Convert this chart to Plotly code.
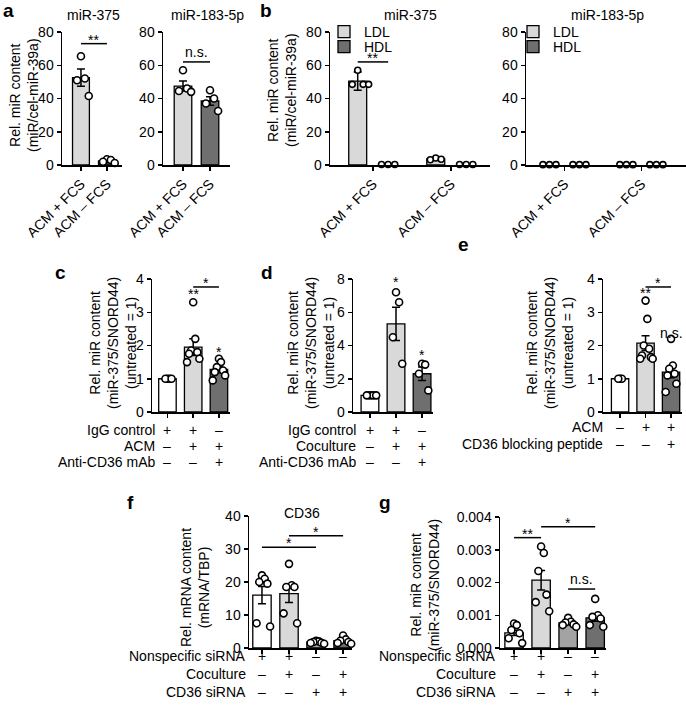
import plotly.graph_objects as go

W, H = 686, 705
def px(x): return x / W
def py(y): return 1 - y / H

# ---------------- data ----------------
a_groups = ["ACM + FCS", "ACM \u2013 FCS"]
a375_mean = [52.5, 2.5]
a375_sem = [5.2, 0.6]
a375_pts = [[65.4, 52, 51, 41.5], [3.5, 3.0, 2.0, 1.2]]
a183_mean = [47.5, 38.5]
a183_sem = [3.0, 2.5]
a183_pts = [[57, 46, 44.5, 44], [45, 40, 37, 32.5]]

b_series = ["LDL", "HDL"]
b375_ldl_mean = [50.5, 3.6]
b375_ldl_sem = [5.5, 0.5]
b375_ldl_pts = [[57, 48.5, 48.5, 48.5], [4.2, 3.5, 3.2]]
b375_hdl_mean = [0.3, 0.3]
b375_hdl_pts = [[0.3, 0.3, 0.3], [0.3, 0.3, 0.3]]
b183_ldl_mean = [0.2, 0.2]
b183_ldl_pts = [[0.2, 0.2, 0.2], [0.2, 0.2, 0.2]]
b183_hdl_mean = [0.2, 0.2]
b183_hdl_pts = [[0.2, 0.2, 0.2], [0.2, 0.2, 0.2]]

c_mean = [1.0, 1.95, 1.28]
c_sem = [0.02, 0.25, 0.1]
c_pts = [[1, 1, 1, 1], [3.3, 2.2, 1.85, 1.8, 1.75, 1.6, 1.5], [1.6, 1.5, 1.35, 1.25, 1.2, 1.1, 0.95]]
c_rows = ["IgG control", "ACM", "Anti-CD36 mAb"]
c_signs = [["+", "+", "\u2013"], ["\u2013", "+", "+"], ["\u2013", "\u2013", "+"]]

d_mean = [1.0, 5.3, 2.3]
d_sem = [0.03, 1.0, 0.4]
d_pts = [[1, 1, 1, 1], [7.2, 6.6, 4.5, 2.9], [2.9, 2.85, 2.3, 1.3]]
d_rows = ["IgG control", "Coculture", "Anti-CD36 mAb"]
d_signs = [["+", "+", "\u2013"], ["\u2013", "+", "+"], ["\u2013", "\u2013", "+"]]

e_mean = [1.0, 2.07, 1.2]
e_sem = [0.03, 0.22, 0.17]
e_pts = [[1, 1, 1], [3.35, 2.8, 2.0, 1.9, 1.7, 1.65, 1.6, 1.6], [2.2, 1.4, 1.3, 1.15, 1.1, 0.85, 0.6]]
e_rows = ["ACM", "CD36 blocking peptide"]
e_signs = [["\u2013", "+", "+"], ["\u2013", "\u2013", "+"]]

f_mean = [16.0, 16.5, 1.8, 2.2]
f_sem = [2.6, 2.7, 0.2, 0.4]
f_pts = [[22, 21, 20, 19.5, 7.5, 6.5], [25.5, 19, 18.5, 18.5, 10.5, 7.5],
         [2.2, 2.0, 1.8, 1.6, 1.5, 1.3], [3.8, 2.6, 2.2, 1.8, 1.5, 1.3]]
fg_rows = ["Nonspecific siRNA", "Coculture", "CD36 siRNA"]
fg_signs = [["+", "+", "\u2013", "\u2013"], ["\u2013", "+", "\u2013", "+"], ["\u2013", "\u2013", "+", "+"]]

g_mean = [0.00046, 0.00207, 0.00077, 0.00092]
g_sem = [0.00008, 0.0003, 0.00005, 0.0001]
g_pts = [[0.00075, 0.0007, 0.00055, 0.00045, 0.0003, 0.00015],
         [0.0031, 0.0029, 0.00235, 0.00163, 0.0014, 0.00112],
         [0.00092, 0.0008, 0.00078, 0.00072, 0.0007, 0.00065],
         [0.0015, 0.001, 0.00095, 0.0009, 0.0007, 0.00065]]

WHITE, LIGHT, MED, DARK = "#ffffff", "#d9d9d9", "#a3a3a3", "#6f6f6f"
FONT = "Liberation Sans, Arial, Helvetica, sans-serif"
TF = 14
STAR_SHIFT = -6

fig = go.Figure()
layout = {}
annotations = []

def ax_name(i, k):
    return f"{k}axis" if i == 1 else f"{k}axis{i}"

def ref(i, k):
    return k if i == 1 else f"{k}{i}"

def add_axes(i, x0, x1, ytop, ybot, xr, yr, dtick, tickvals, ticktext=None, tickangle=0, tickformat=None):
    layout[ax_name(i, "x")] = dict(
        domain=[px(x0), px(x1)], range=xr, anchor=ref(i, "y"), showline=True, linecolor="black",
        linewidth=1.5, ticks="outside", ticklen=4, tickwidth=1.5, tickcolor="black", showgrid=False,
        zeroline=False, tickmode="array", tickvals=tickvals, automargin=False,
        ticktext=ticktext if ticktext else [""] * len(tickvals),
        showticklabels=ticktext is not None, tickangle=tickangle,
        tickfont=dict(size=TF, color="black", family=FONT), fixedrange=True)
    ya = dict(
        domain=[py(ybot), py(ytop)], range=yr, anchor=ref(i, "x"), showline=True, linecolor="black",
        linewidth=1.5, ticks="outside", ticklen=4, tickwidth=1.5, tickcolor="black", showgrid=False,
        zeroline=False, tick0=0, dtick=dtick, automargin=False,
        tickfont=dict(size=TF, color="black", family=FONT), fixedrange=True)
    if tickformat:
        ya["tickformat"] = tickformat
    layout[ax_name(i, "y")] = ya

def jitter(n, step):
    offs = []
    for k in range(n):
        m = (k + 1) // 2
        offs.append(m * step * (1 if k % 2 else -1))
    return offs

def dots(i, xs, pts, step, size=7):
    X, Y = [], []
    for x, p in zip(xs, pts):
        js = jitter(len(p), step)
        for j, v in zip(js, p):
            X.append(x + j)
            Y.append(v)
    fig.add_trace(go.Scatter(x=X, y=Y, mode="markers", xaxis=ref(i, "x"), yaxis=ref(i, "y"),
                             marker=dict(symbol="circle", size=size, color="white",
                                         line=dict(color="black", width=1.6)),
                             cliponaxis=False, showlegend=False, hoverinfo="skip"))

def bars(i, xs, means, sem, colors, width):
    eb = dict(type="data", array=sem, color="black", thickness=1.5, width=4) if sem else None
    fig.add_trace(go.Bar(x=xs, y=means, width=width, xaxis=ref(i, "x"), yaxis=ref(i, "y"),
                         marker=dict(color=colors, line=dict(color="black", width=1.3)),
                         error_y=eb, showlegend=False, cliponaxis=True, hoverinfo="skip"))

def legend_entry(i, name, color, legend):
    fig.add_trace(go.Bar(x=[None], y=[None], xaxis=ref(i, "x"), yaxis=ref(i, "y"), name=name,
                         marker=dict(color=color, line=dict(color="black", width=1.3)),
                         legend=legend, showlegend=True))

def sig(i, x0, x1, h, text):
    fig.add_trace(go.Scatter(x=[x0, x1], y=[h, h], mode="lines", xaxis=ref(i, "x"), yaxis=ref(i, "y"),
                             line=dict(color="black", width=1.5), cliponaxis=False,
                             showlegend=False, hoverinfo="skip"))
    annotations.append(dict(x=(x0 + x1) / 2, y=h, xref=ref(i, "x"), yref=ref(i, "y"), text=text,
                            showarrow=False, yanchor="bottom",
                            yshift=STAR_SHIFT if "*" in text else 0,
                            font=dict(size=TF, color="black", family=FONT)))

def star(i, x, y, text):
    annotations.append(dict(x=x, y=y, xref=ref(i, "x"), yref=ref(i, "y"), text=text,
                            showarrow=False, yanchor="bottom",
                            yshift=STAR_SHIFT if "*" in text else 0,
                            font=dict(size=TF, color="black", family=FONT)))

def text(x, y, t, size=TF, bold=False, angle=0, xanchor="center"):
    annotations.append(dict(x=px(x), y=py(y), xref="paper", yref="paper", text=t, showarrow=False,
                            textangle=angle, xanchor=xanchor, yanchor="middle",
                            font=dict(size=size, color="black", family=FONT,
                                      weight="bold" if bold else "normal")))

def rows(i, labels, signs, xs, ylist, xlabel):
    for lab, sg, yy in zip(labels, signs, ylist):
        text(xlabel, yy, lab, xanchor="right")
        for x, s in zip(xs, sg):
            annotations.append(dict(x=x, y=py(yy), xref=ref(i, "x"), yref="paper", text=s,
                                    showarrow=False, yanchor="middle",
                                    font=dict(size=TF, color="black", family=FONT)))

# ---------------- panel a ----------------
pos2 = [0, 1]
add_axes(1, 62, 122, 32, 165, [-0.73, 1.58], [0, 80], 20, pos2, a_groups, -45)
bars(1, pos2, a375_mean, a375_sem, [LIGHT, DARK], 0.65)
dots(1, pos2, a375_pts, 0.15)
sig(1, 0, 1, 73, "**")
add_axes(2, 163, 230, 32, 165, [-0.74, 1.74], [0, 80], 20, pos2, a_groups, -45)
bars(2, pos2, a183_mean, a183_sem, [LIGHT, DARK], 0.65)
dots(2, pos2, a183_pts, 0.15)
sig(2, 0, 1, 62, "n.s.")

# ---------------- panel b ----------------
off = 0.195
bw = 0.23
add_axes(3, 330, 490, 32, 165, [-0.55, 1.5], [0, 80], 20, pos2, a_groups, -45)
bars(3, [p - off for p in pos2], b375_ldl_mean, b375_ldl_sem, LIGHT, bw)
bars(3, [p + off for p in pos2], b375_hdl_mean, None, DARK, bw)
dots(3, [p - off for p in pos2], b375_ldl_pts, 0.07, 6)
dots(3, [p + off for p in pos2], b375_hdl_pts, 0.085, 6)
sig(3, -off, off, 62, "**")
legend_entry(3, b_series[0], LIGHT, "legend")
legend_entry(3, b_series[1], DARK, "legend2")
add_axes(4, 526, 686, 32, 165, [-0.5, 1.58], [0, 80], 20, pos2, a_groups, -45)
bars(4, [p - off for p in pos2], b183_ldl_mean, None, LIGHT, bw)
bars(4, [p + off for p in pos2], b183_hdl_mean, None, DARK, bw)
dots(4, [p - off for p in pos2], b183_ldl_pts, 0.085, 6)
dots(4, [p + off for p in pos2], b183_hdl_pts, 0.085, 6)
legend_entry(4, b_series[0], LIGHT, "legend3")
legend_entry(4, b_series[1], DARK, "legend4")

# ---------------- panel c ----------------
pos3 = [0, 1, 2]
add_axes(5, 152, 230, 279, 412, [-0.6, 2.43], [0, 4], 1, pos3)
bars(5, pos3, c_mean, c_sem, [WHITE, LIGHT, DARK], 0.68)
dots(5, pos3, c_pts, 0.08)
sig(5, 1, 2, 3.76, "*")
star(5, 1, 3.42, "**")
star(5, 2, 1.68, "*")
rows(5, c_rows, c_signs, pos3, [430, 446, 462], 157)

# ---------------- panel d ----------------
add_axes(6, 353, 433, 279, 412, [-0.65, 2.42], [0, 8], 2, pos3)
bars(6, pos3, d_mean, d_sem, [WHITE, LIGHT, DARK], 0.68)
dots(6, pos3, d_pts, 0.12)
sig(6, 1, 2, 8.1, "*")
star(6, 1, 7.6, "*")
star(6, 2, 3.2, "*")
rows(6, d_rows, d_signs, pos3, [430, 446, 462], 358)

# ---------------- panel e ----------------
add_axes(7, 603, 682, 279, 412, [-0.67, 2.43], [0, 4], 1, pos3)
bars(7, pos3, e_mean, e_sem, [WHITE, LIGHT, DARK], 0.68)
dots(7, pos3, e_pts, 0.07)
sig(7, 1, 2, 3.76, "*")
star(7, 1, 3.45, "**")
star(7, 2, 2.08, "n.s.")
rows(7, e_rows, e_signs, pos3, [427, 444], 605)

# ---------------- panel f ----------------
pos4 = [0, 1, 2, 3]
add_axes(8, 249, 352, 516, 648, [-0.48, 3.33], [0, 40], 10, pos4)
bars(8, pos4, f_mean, f_sem, [WHITE, LIGHT, MED, DARK], 0.68)
dots(8, pos4, f_pts, 0.1)
sig(8, 0, 2, 30.5, "*")
sig(8, 1, 3, 34, "*")
rows(8, fg_rows, fg_signs, pos4, [656, 674, 692], 248)

# ---------------- panel g ----------------
add_axes(9, 500, 606, 517, 648, [-0.52, 3.4], [0, 0.004], 0.001, pos4, tickformat=".3f")
bars(9, pos4, g_mean, g_sem, [WHITE, LIGHT, MED, DARK], 0.68)
dots(9, pos4, g_pts, 0.1)
sig(9, 0, 1, 0.00337, "**")
sig(9, 1, 3, 0.0037, "*")
sig(9, 2, 3, 0.0018, "n.s.")
rows(9, fg_rows, fg_signs, pos4, [656, 674, 692], 498)

# ---------------- titles / labels ----------------
text(93, 15, "miR-375")
text(207, 15, "miR-183-5p")
text(410, 15, "miR-375")
text(607, 15, "miR-183-5p")
text(302, 513, "CD36")

text(24, 95, "Rel. miR content<br>(miR/cel-miR-39a)", angle=-90)
text(282, 90, "Rel. miR content<br>(miR/cel-miR-39a)", angle=-90)
text(113, 343, "Rel. miR content<br>(miR-375/SNORD44)<br>(untreated = 1)", angle=-90)
text(311, 343, "Rel. miR content<br>(miR-375/SNORD44)<br>(untreated = 1)", angle=-90)
text(550, 343, "Rel. miR content<br>(miR-375/SNORD44)<br>(untreated = 1)", angle=-90)
text(195, 588, "Rel. mRNA content<br>(mRNA/TBP)", angle=-90)
text(425, 585, "Rel. miR content<br>(miR-375/SNORD44)", angle=-90)

for lt, lx, ly in [("a", 8, 10), ("b", 266, 10), ("c", 60, 272), ("d", 267, 272),
                   ("e", 463, 244), ("f", 130, 502), ("g", 385, 502)]:
    text(lx, ly, lt, size=19, bold=True)

leg = dict(xanchor="left", yanchor="middle", font=dict(size=TF, color="black", family=FONT),
           bgcolor="rgba(0,0,0,0)", itemwidth=30, borderwidth=0)
layout["legend"] = dict(leg, x=px(324), y=py(32))
layout["legend2"] = dict(leg, x=px(324), y=py(47))
layout["legend3"] = dict(leg, x=px(513), y=py(32))
layout["legend4"] = dict(leg, x=px(513), y=py(47))

fig.update_layout(**layout)
fig.update_layout(width=W, height=H, margin=dict(l=0, r=0, t=0, b=0, autoexpand=False),
                  paper_bgcolor="white", hovermode=False,
                  plot_bgcolor="rgba(0,0,0,0)", barmode="overlay", annotations=annotations,
                  font=dict(family=FONT, color="black"), showlegend=True)

fig.write_html("out.html", config={"displayModeBar": False, "staticPlot": True},
               post_script="document.body.style.margin='0px';")
